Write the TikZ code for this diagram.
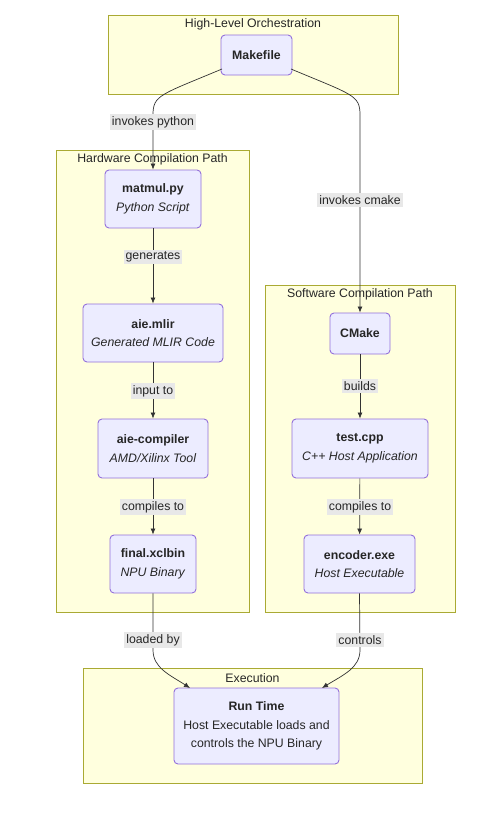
\documentclass[tikz,border=0pt]{standalone}
\usepackage{fontspec}
\setmainfont{Liberation Sans}
\usetikzlibrary{arrows.meta}
\definecolor{clfill}{HTML}{FFFFDE}
\definecolor{cldraw}{HTML}{AAAA33}
\definecolor{ndfill}{HTML}{ECECFF}
\definecolor{nddraw}{HTML}{9370DB}
\definecolor{lblbg}{HTML}{E8E8E8}
\definecolor{edge}{HTML}{333333}
\tikzset{
  cluster/.style={draw=cldraw, fill=clfill, line width=0.8pt},
  cltitle/.style={font=\fontsize{12.3}{14}\selectfont, text=black!85, inner sep=0pt},
  box/.style={draw=nddraw, fill=ndfill, rounded corners=4pt, line width=0.9pt, align=center,
     font=\fontsize{12.3}{18.5}\selectfont, inner sep=0pt, text=black!85},
  elabel/.style={fill=lblbg, font=\fontsize{12.3}{14}\selectfont, inner sep=2pt, text=black!85},
  conn/.style={draw=edge, line width=0.7pt, -{Latex[length=6pt,width=5pt]}},
}
\begin{document}
\begin{tikzpicture}[x=1pt,y=-1pt]
\useasboundingbox (0,0) rectangle (477,819);
% clusters
\draw[cluster] (108,15) rectangle (398,94);
\node[cltitle] (t1) at (253,24) {High-Level Orchestration};
\draw[cluster] (56,150) rectangle (249,612);
\node[cltitle] (t2) at (152.5,159) {Hardware Compilation Path};
\draw[cluster] (265,285) rectangle (455,612);
\node[cltitle] (t3) at (360,294) {Software Compilation Path};
\draw[cluster] (83,668) rectangle (422,783);
\node[cltitle] (t4) at (252.5,678) {Execution};
% nodes
\node[box, minimum width=71pt, minimum height=40pt] (make) at (256.5,55) {\textbf{Makefile}};
\node[box, minimum width=96pt, minimum height=58pt] (matmul) at (153,199) {\textbf{matmul.py}\\\textit{Python Script}};
\node[box, minimum width=140pt, minimum height=58pt] (mlir) at (153,333) {\textbf{aie.mlir}\\\textit{Generated MLIR Code}};
\node[box, minimum width=110pt, minimum height=59pt] (comp) at (153,448.5) {\textbf{aie-compiler}\\\textit{AMD/Xilinx Tool}};
\node[box, minimum width=86pt, minimum height=58pt] (xclbin) at (153,564) {\textbf{final.xclbin}\\\textit{NPU Binary}};
\node[box, minimum width=60pt, minimum height=41pt] (cmake) at (360,333.5) {\textbf{CMake}};
\node[box, minimum width=136pt, minimum height=59pt] (test) at (360,448.5) {\textbf{test.cpp}\\\textit{C++ Host Application}};
\node[box, minimum width=111pt, minimum height=58pt] (enc) at (359.5,564) {\textbf{encoder.exe}\\\textit{Host Executable}};
\node[box, minimum width=165pt, minimum height=76pt] (run) at (256.5,726) {\textbf{Run Time}\\Host Executable loads and\\controls the NPU Binary};
% helper coordinates
\coordinate (mkL) at (222,69);
\coordinate (mkR) at (291,69);
\coordinate (rtL) at (190,688);
\coordinate (rtR) at (322,688);
% edges
\draw[conn] (mkL) .. controls (160,95) and (153,95) .. (153,115) -- (matmul.north);
\node[elabel] (l1) at (153,122) {invokes python};
\draw[conn] (mkR) .. controls (353,95) and (360,95) .. (360,115) -- (cmake.north);
\node[elabel] (l2) at (360,200) {invokes cmake};
\draw[conn] (matmul) -- (mlir);
\node[elabel] (l3) at (153,257) {generates};
\draw[conn] (mlir) -- (comp);
\node[elabel] (l4) at (153,391) {input to};
\draw[conn] (comp) -- (xclbin);
\node[elabel] (l5) at (153,507) {compiles to};
\draw[conn] (cmake) -- (test);
\node[elabel] (l6) at (360,386) {builds};
\draw[conn] (test) -- (enc);
\node[elabel] (l7) at (360,507) {compiles to};
\draw[conn] (xclbin.south) -- (153,650) .. controls (153,668) and (170,675) .. (rtL);
\node[elabel] (l8) at (153,640) {loaded by};
\draw[conn] (enc.south) -- (360,650) .. controls (360,668) and (343,675) .. (rtR);
\node[elabel] (l9) at (360,640) {controls};
\end{tikzpicture}
\end{document}
